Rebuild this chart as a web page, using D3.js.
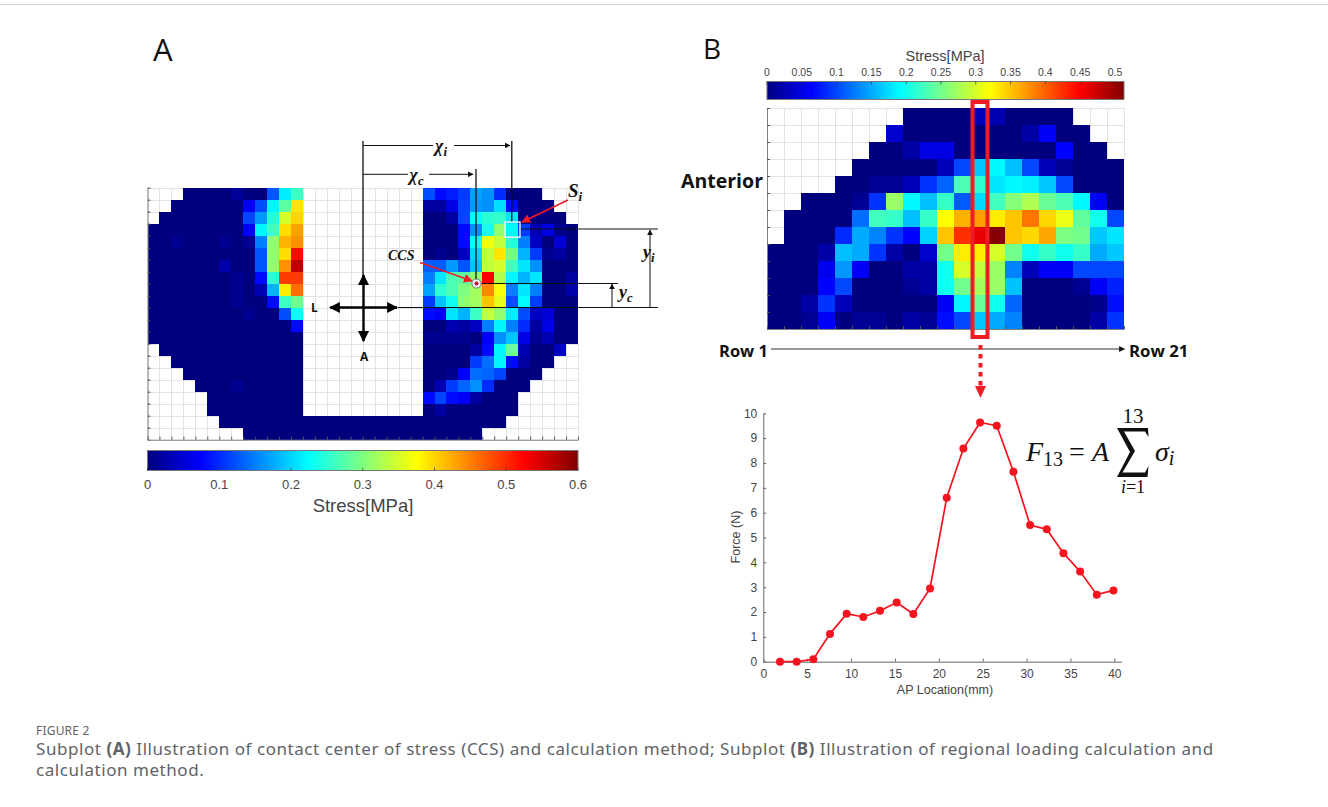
<!DOCTYPE html>
<html>
<head>
<meta charset="utf-8">
<script src="https://cdnjs.cloudflare.com/ajax/libs/d3/7.8.5/d3.min.js"></script>
<style>
  html, body { margin: 0; padding: 0; background: #fff; }
  svg { display: block; }
  text { font-family: "Liberation Sans", Arial, sans-serif; }
  .tickaxis path { stroke: #808080; }
  .tickaxis line { stroke: #555; }
  .numaxis path, .numaxis line { stroke: #666; }
  .numaxis text { fill: #444; font-size: 12px; }
  .panel { font-family: "Open Sans", sans-serif; fill: #111; }
  .boldlabel { font-family: "Open Sans", sans-serif; font-weight: 700; fill: #111; }
  .math { font-family: "Liberation Serif", serif; font-style: italic; fill: #111; }
  .upright { font-style: normal; }
  .caption { font-family: "Noto Sans", sans-serif; fill: #5f6368; }
</style>
</head>
<body>
<div class="demo"></div>
<script>
(function() {
    var n = null;

    // panel A, medial half of the plateau (13 columns by 21 rows), MPa
    var stressLeft = [
        [n,n,n,0,0,0,0,.015,0,0,.125,.215,.26],
        [n,n,0,0,0,0,0,0,.07,.12,.22,.28,.39],
        [n,0,0,0,0,0,0,0,.115,.165,.245,.35,.40],
        [0,0,0,0,0,0,0,0,.075,.22,.26,.395,.43],
        [0,0,.01,0,0,0,.01,0,.01,.15,.31,.42,.44],
        [0,0,0,0,0,0,0,0,0,.125,.31,.395,.52],
        [0,0,0,0,0,0,.025,0,0,.125,.31,.44,.56],
        [0,0,0,0,0,0,0,.01,0,.08,.25,.49,.49],
        [0,0,0,0,0,0,0,.01,0,.03,.18,.385,.46],
        [0,0,0,0,0,0,0,.01,0,0,.08,.26,.29],
        [0,0,0,0,0,0,0,0,.01,0,0,.12,.23],
        [0,0,0,0,0,0,0,0,0,0,0,0,.08],
        [0,0,0,0,0,0,0,0,0,0,0,0,0],
        [n,0,0,0,0,0,0,0,0,0,0,0,0],
        [n,n,0,0,0,0,0,0,0,0,0,0,0],
        [n,n,n,0,0,0,0,0,0,0,0,0,0],
        [n,n,n,n,0,0,0,.01,0,0,0,0,0],
        [n,n,n,n,n,0,0,0,0,0,0,0,0],
        [n,n,n,n,n,0,0,0,0,0,0,0,0],
        [n,n,n,n,n,n,0,0,0,0,0,0,0],
        [n,n,n,n,n,n,n,n,0,0,0,0,0]
    ];

    // panel A, lateral half
    var stressRight = [
        [.12,.08,.09,.11,.17,.16,.10,0,0,0,n,n,n],
        [.02,.02,.06,.115,.165,.16,.205,.08,0,0,0,n,n],
        [0,0,.02,.115,.225,.25,.255,.21,0,0,0,0,n],
        [0,0,0,.08,.16,.24,.31,.22,.11,.03,.06,.01,0],
        [0,0,0,.08,.23,.365,.34,.245,.15,.04,0,.05,0],
        [0,.01,0,.04,.20,.34,.39,.29,.18,.11,.01,.02,0],
        [.13,.13,.165,.125,.19,.34,.35,.26,.21,.16,0,0,0],
        [.15,.21,.27,.28,.31,.525,.33,.22,.18,.21,0,0,.02],
        [.17,.25,.27,.30,.32,.445,.37,.15,.21,.15,0,0,.025],
        [.11,.19,.235,.31,.32,.41,.36,.12,.225,.11,0,0,0],
        [.08,.07,.21,.18,.26,.34,.31,.215,.12,.04,.05,0,0],
        [0,0,.03,.02,.04,.15,.22,.15,.10,.02,.06,0,0],
        [.01,.01,.01,.01,0,.07,.16,.19,.06,.01,.03,0,0],
        [0,0,0,0,.02,.08,.22,.29,.03,0,0,.04,n],
        [0,0,0,0,.11,.14,.22,.08,.02,0,0,n,n],
        [0,0,.01,.075,.14,.135,.115,0,0,0,n,n,n],
        [0,.03,.11,.135,.16,.10,0,0,0,n,n,n,n],
        [.08,.115,.08,.07,.02,0,0,0,n,n,n,n,n],
        [0,.02,0,0,0,0,0,0,n,n,n,n,n],
        [0,0,0,0,0,0,0,n,n,n,n,n,n],
        [0,0,0,0,0,n,n,n,n,n,n,n,n]
    ];

    // panel B, 21 columns by 13 rows, MPa
    var stressB = [
        [n,n,n,n,n,n,n,n,0,0,0,0,.03,.025,0,0,0,0,n,n,n],
        [n,n,n,n,n,n,n,.04,0,0,0,0,0,0,0,.02,.06,0,0,n,n],
        [n,n,n,n,n,n,0,0,.02,.05,.05,0,0,0,0,0,0,.065,0,0,n],
        [n,n,n,n,n,0,0,0,0,0,.03,.10,.165,.19,.16,.10,.03,.01,0,0,0],
        [n,n,n,n,0,0,.01,.01,.03,.09,.115,.23,.215,.18,.19,.185,.165,.10,0,0,0],
        [n,n,0,0,0,.01,.09,.27,.19,.16,.22,.11,.175,.225,.26,.28,.245,.23,.19,.06,0],
        [n,0,0,0,0,.12,.225,.22,.16,.22,.32,.36,.37,.33,.35,.39,.34,.31,.24,.20,.10],
        [n,0,0,0,.085,.15,.13,.09,.065,.17,.35,.425,.46,.51,.35,.34,.365,.255,.25,.165,.18],
        [0,0,0,.02,.16,.15,.09,.02,0,.04,.25,.33,.33,.30,.25,.20,.22,.20,.22,.15,.165],
        [0,0,0,.055,.14,.06,0,0,.02,.02,.20,.30,.29,.27,.13,.03,.06,.06,.10,.10,.10],
        [0,0,0,.065,.10,0,0,0,.01,.02,.20,.25,.275,.27,.16,0,0,0,.01,.06,.08],
        [0,0,.02,.09,.03,0,0,0,0,0,.06,.19,.245,.20,.115,0,0,0,0,.005,.07],
        [0,0,.01,.06,0,.01,.01,0,.02,.01,.07,.10,.165,.15,.13,0,0,0,0,.02,.09]
    ];

    var apLocation = [1.9,3.8,5.7,7.6,9.5,11.4,13.3,15.2,17.1,19,20.9,22.8,24.7,26.6,28.5,30.4,32.3,34.2,36.1,38,39.9];
    var force = [0,0,0.1,1.12,1.93,1.8,2.05,2.38,1.92,2.95,6.6,8.58,9.63,9.5,7.65,5.5,5.33,4.37,3.63,2.7,2.87];

    var barTicksA = [0,0.1,0.2,0.3,0.4,0.5,0.6];
    var barTicksB = [0,0.05,0.1,0.15,0.2,0.25,0.3,0.35,0.4,0.45,0.5];
    var forceTicks = [0,1,2,3,4,5,6,7,8,9,10];
    var apTicks = [0,5,10,15,20,25,30,35,40];

    var captionLines = [
        [["Subplot ",0],["(A)",1],[" Illustration of contact center of stress (CCS) and calculation method; Subplot ",0],["(B)",1],[" Illustration of regional loading calculation and",0]],
        [["calculation method.",0]]
    ];

    var width = 1328,
        height = 807;

    var svg = d3.select(".demo").append("svg")
        .attr("width", width)
        .attr("height", height);

    var defs = svg.append("defs");

    function arrowMarker(id, color, w) {
        defs.append("marker")
            .attr("id", id)
            .attr("viewBox", "0 0 10 10")
            .attr("refX", 9).attr("refY", 5)
            .attr("markerUnits", "userSpaceOnUse")
            .attr("markerWidth", w).attr("markerHeight", w)
            .attr("orient", "auto-start-reverse")
            .append("path")
            .attr("d", "M0,0L10,5L0,10Z")
            .attr("fill", color);
    }
    arrowMarker("thin", "#111", 6);
    arrowMarker("thick", "#000", 11);
    arrowMarker("red", "#ee1c25", 9);

    // MATLAB jet, stretched over a colour bar's range
    function jet(maxVal) {
        return d3.scaleLinear()
            .domain([0, .125, .375, .625, .875, 1].map(function(d) { return d * maxVal; }))
            .range(["#00007f", "#0000ff", "#00ffff", "#ffff00", "#ff0000", "#7f0000"])
            .clamp(true);
    }

    function line(x1, y1, x2, y2, color, w, marker, parent) {
        var l = (parent || svg).append("line")
            .attr("x1", x1).attr("y1", y1)
            .attr("x2", x2).attr("y2", y2)
            .attr("stroke", color)
            .attr("stroke-width", w);
        if (marker) l.attr("marker-end", "url(#" + marker + ")");
        return l;
    }

    function heatmap(rows, box, color) {
        var nCols = rows[0].length,
            nRows = rows.length;
        var x = d3.scaleLinear().domain([0, nCols]).range([box.left, box.right]);
        var y = d3.scaleLinear().domain([0, nRows]).range([box.top, box.bottom]);
        var g = svg.append("g").attr("shape-rendering", "crispEdges");

        var cells = [];
        rows.forEach(function(row, r) {
            row.forEach(function(v, c) { cells.push({r: r, c: c, v: v}); });
        });

        // white cells first so that their grid lines sit under the coloured ones
        cells.sort(function(a, b) { return (a.v === null ? 0 : 1) - (b.v === null ? 0 : 1); });

        g.selectAll("rect").data(cells).enter().append("rect")
            .attr("x", function(d) { return Math.round(x(d.c)); })
            .attr("y", function(d) { return Math.round(y(d.r)); })
            .attr("width", function(d) { return Math.round(x(d.c + 1)) - Math.round(x(d.c)); })
            .attr("height", function(d) { return Math.round(y(d.r + 1)) - Math.round(y(d.r)); })
            .attr("fill", function(d) { return d.v === null ? "#fff" : color(d.v); })
            .attr("stroke", function(d) { return d.v === null ? "#e2e2e2" : "none"; })
            .attr("stroke-width", 1);

        svg.append("g").attr("class", "tickaxis")
            .attr("transform", "translate(" + box.left + ",0)")
            .call(d3.axisLeft(y).tickValues(d3.range(0, nRows + 1)).tickSize(-3).tickSizeOuter(0).tickFormat(""));
        svg.append("g").attr("class", "tickaxis")
            .attr("transform", "translate(0," + box.bottom + ")")
            .call(d3.axisBottom(x).tickValues(d3.range(0, nCols + 1)).tickSize(-3).tickSizeOuter(0).tickFormat(""));

        return {x: x, y: y};
    }

    function colorbar(id, box, maxVal, ticks, labelY, labelSize, tickPos) {
        var color = jet(maxVal);
        var x = d3.scaleLinear().domain([0, maxVal]).range([box.left, box.right]);
        var grad = defs.append("linearGradient").attr("id", id);
        grad.selectAll("stop").data(color.domain()).enter().append("stop")
            .attr("offset", function(d) { return d / maxVal; })
            .attr("stop-color", function(d) { return color(d); });
        svg.append("rect")
            .attr("x", box.left).attr("y", box.top)
            .attr("width", box.right - box.left).attr("height", box.bottom - box.top)
            .attr("fill", "url(#" + id + ")")
            .attr("stroke", "#777").attr("stroke-width", 1);
        svg.selectAll(".t" + id).data(ticks).enter().append("line")
            .attr("class", "t" + id)
            .attr("x1", x).attr("x2", x)
            .attr("y1", tickPos).attr("y2", tickPos + 3)
            .attr("stroke", "#333").attr("stroke-width", 0.7);
        svg.selectAll(".l" + id).data(ticks).enter().append("text")
            .attr("class", "l" + id)
            .attr("x", x).attr("y", labelY)
            .attr("text-anchor", "middle")
            .attr("font-size", labelSize)
            .attr("fill", "#444")
            .text(function(d) { return d; });
    }

    // ---- panel A
    var colorA = jet(0.6);
    var rowsA = stressLeft.map(function(row, r) {
        var mid = d3.range(10).map(function() { return r < 19 ? null : 0; });
        return row.concat(mid, stressRight[r]);
    });
    heatmap(rowsA, {left: 147.5, right: 578, top: 187.7, bottom: 439.7}, colorA);
    colorbar("barA", {left: 147.5, right: 578, top: 450.5, bottom: 470.5}, 0.6, barTicksA, 489, 13, 467.5);
    svg.append("text").attr("x", 363).attr("y", 512).attr("text-anchor", "middle")
        .attr("font-size", 18.5).attr("fill", "#444").text("Stress[MPa]");
    svg.append("text").attr("class", "panel").attr("x", 153).attr("y", 61).attr("font-size", 31).text("A");

    // distance construction lines
    line(363, 141, 363, 280, "#111", 1.3);
    line(476, 169, 476, 281, "#111", 1.3);
    line(511.8, 141, 511.8, 222, "#111", 1.3);
    line(363, 145.5, 433, 145.5, "#111", 1);
    line(454, 145.5, 510, 145.5, "#111", 1, "thin");
    line(363, 174.3, 408, 174.3, "#111", 1);
    line(429, 174.3, 473, 174.3, "#111", 1, "thin");
    line(398, 307.5, 658, 307.5, "#111", 1.2);
    line(521, 229, 658, 229, "#111", 1.2);
    line(481, 283.5, 618, 283.5, "#111", 1.2);
    line(650, 307.5, 650, 230, "#111", 1, "thin");
    line(612, 307.5, 612, 284, "#111", 1, "thin");

    // the L/A cross
    line(363.5, 307.5, 397, 307.5, "#000", 2.4, "thick");
    line(363.5, 307.5, 330, 307.5, "#000", 2.4, "thick");
    line(363.5, 307.5, 363.5, 275, "#000", 2.4, "thick");
    line(363.5, 307.5, 363.5, 341, "#000", 2.4, "thick");
    svg.append("text").attr("class", "boldlabel").attr("x", 311).attr("y", 312).attr("font-size", 12).text("L");
    svg.append("text").attr("class", "boldlabel").attr("x", 360).attr("y", 361).attr("font-size", 12).text("A");

    // element Si and CCS marker
    svg.append("rect").attr("x", 505).attr("y", 222).attr("width", 15).attr("height", 15.3)
        .attr("fill", "none").attr("stroke", "#eef").attr("stroke-width", 1.4);
    line(568, 200, 522, 222, "#ee1c25", 1.6, "red");
    line(420, 262.5, 472, 281, "#ee1c25", 1.6, "red");
    svg.append("circle").attr("cx", 476.5).attr("cy", 283.5).attr("r", 4.6)
        .attr("fill", "#eef").attr("stroke", "#666").attr("stroke-width", 0.9);
    svg.append("circle").attr("cx", 476.5).attr("cy", 283.5).attr("r", 2)
        .attr("fill", "#c8102e");

    function mathLabel(x, y, main, sub, size) {
        var t = svg.append("text").attr("class", "math").attr("x", x).attr("y", y)
            .attr("font-size", size).attr("font-weight", 700).text(main);
        t.append("tspan").attr("dy", size * 0.22).attr("font-size", size * 0.7).text(sub);
    }
    mathLabel(435, 152, "\u03c7", "i", 18);
    mathLabel(409.5, 181, "\u03c7", "c", 18);
    mathLabel(643, 258, "y", "i", 18);
    mathLabel(619, 298, "y", "c", 18);
    mathLabel(568, 197, "S", "i", 19);
    svg.append("text").attr("class", "math").attr("x", 388).attr("y", 260)
        .attr("font-size", 14).attr("font-weight", 700).text("CCS");

    // ---- panel B
    heatmap(stressB, {left: 767, right: 1124, top: 108, bottom: 329}, jet(0.513));
    colorbar("barB", {left: 767, right: 1124, top: 81.5, bottom: 99.5}, 0.513, barTicksB, 75.5, 10.5, 81.5);
    svg.append("text").attr("x", 945).attr("y", 61).attr("text-anchor", "middle")
        .attr("font-size", 14.5).attr("fill", "#444").text("Stress[MPa]");
    svg.append("text").attr("class", "panel").attr("x", 703).attr("y", 59).attr("font-size", 28).text("B");
    svg.append("text").attr("class", "boldlabel").attr("x", 681).attr("y", 188).attr("font-size", 19.5).text("Anterior");
    svg.append("text").attr("class", "boldlabel").attr("x", 719).attr("y", 357).attr("font-size", 16.5).text("Row 1");
    svg.append("text").attr("class", "boldlabel").attr("x", 1129).attr("y", 357).attr("font-size", 16.8).text("Row 21");
    line(771, 349, 1124.5, 349, "#333", 1, "thin");

    // highlighted column and the dotted pointer down to the line chart
    svg.append("rect").attr("x", 972.5).attr("y", 102).attr("width", 15).attr("height", 235)
        .attr("fill", "none").attr("stroke", "#ee1c25").attr("stroke-width", 4);
    line(980.5, 345, 980.5, 386, "#ee1c25", 4).attr("stroke-dasharray", "4.5 4.5");
    svg.append("path").attr("d", "M975,386L986,386L980.5,398Z").attr("fill", "#ee1c25");

    // ---- force line chart
    var plotX = d3.scaleLinear().domain([0, 40.84]).range([763.3, 1121.7]);
    var plotY = d3.scaleLinear().domain([0, 10]).range([661.7, 413.3]);

    svg.append("g").attr("class", "numaxis")
        .attr("transform", "translate(0," + plotY(0) + ")")
        .call(d3.axisBottom(plotX).tickValues(apTicks).tickSize(-3).tickSizeOuter(0).tickPadding(8));
    svg.append("g").attr("class", "numaxis")
        .attr("transform", "translate(" + plotX(0) + ",0)")
        .call(d3.axisLeft(plotY).tickValues(forceTicks).tickSize(-3).tickSizeOuter(0).tickPadding(6));

    svg.append("path").datum(apLocation)
        .attr("fill", "none")
        .attr("stroke", "#f5141e")
        .attr("stroke-width", 1.7)
        .attr("d", d3.line()
            .x(function(d) { return plotX(d); })
            .y(function(d, i) { return plotY(force[i]); }));
    svg.selectAll(".pt").data(apLocation).enter().append("circle")
        .attr("class", "pt")
        .attr("cx", function(d) { return plotX(d); })
        .attr("cy", function(d, i) { return plotY(force[i]); })
        .attr("r", 4)
        .attr("fill", "#f5141e");

    svg.append("text").attr("x", 945).attr("y", 694).attr("text-anchor", "middle")
        .attr("font-size", 12.5).attr("fill", "#444").text("AP Location(mm)");
    svg.append("text").attr("transform", "translate(740,537) rotate(-90)").attr("text-anchor", "middle")
        .attr("font-size", 12.5).attr("fill", "#444").text("Force (N)");

    // formula
    var fm = svg.append("text").attr("class", "math").attr("x", 1026).attr("y", 461).attr("font-size", 28);
    fm.append("tspan").text("F");
    fm.append("tspan").attr("class", "upright").attr("dy", 5).attr("font-size", 20).text("13");
    fm.append("tspan").attr("class", "upright").attr("dy", -5).attr("dx", 6).text("=");
    fm.append("tspan").attr("dx", 7).text("A");
    svg.append("text").attr("x", 1133).attr("y", 423).attr("text-anchor", "middle")
        .attr("class", "math upright").attr("font-size", 21).text("13");
    svg.append("path")
        .attr("d", "M1117,428L1148,428L1148.5,437L1145,431.5L1124,431.5L1135,451L1122.5,472.5L1145,472.5L1148.5,466L1147.5,477L1117,477L1130,452Z")
        .attr("fill", "#111");
    var low = svg.append("text").attr("x", 1133).attr("y", 493).attr("text-anchor", "middle")
        .attr("class", "math").attr("font-size", 18);
    low.append("tspan").text("i");
    low.append("tspan").attr("class", "upright").text("=1");
    var sg = svg.append("text").attr("class", "math").attr("x", 1155).attr("y", 461).attr("font-size", 28);
    sg.append("tspan").text("\u03c3");
    sg.append("tspan").attr("dy", 4).attr("font-size", 20).text("i");

    // ---- frame and caption
    line(0, 4.5, width, 4.5, "#cfcfcf", 1);
    svg.append("text").attr("class", "caption").attr("x", 36).attr("y", 735)
        .attr("font-size", 12).attr("letter-spacing", 0.2).text("FIGURE 2");
    captionLines.forEach(function(parts, i) {
        var t = svg.append("text").attr("class", "caption")
            .attr("x", 36).attr("y", 755 + i * 20.5).attr("font-size", 17).attr("letter-spacing", 0.55);
        parts.forEach(function(p) {
            t.append("tspan").attr("font-weight", p[1] ? 700 : 400).attr("xml:space", "preserve").text(p[0]);
        });
    });
})();
</script>
</body>
</html>
